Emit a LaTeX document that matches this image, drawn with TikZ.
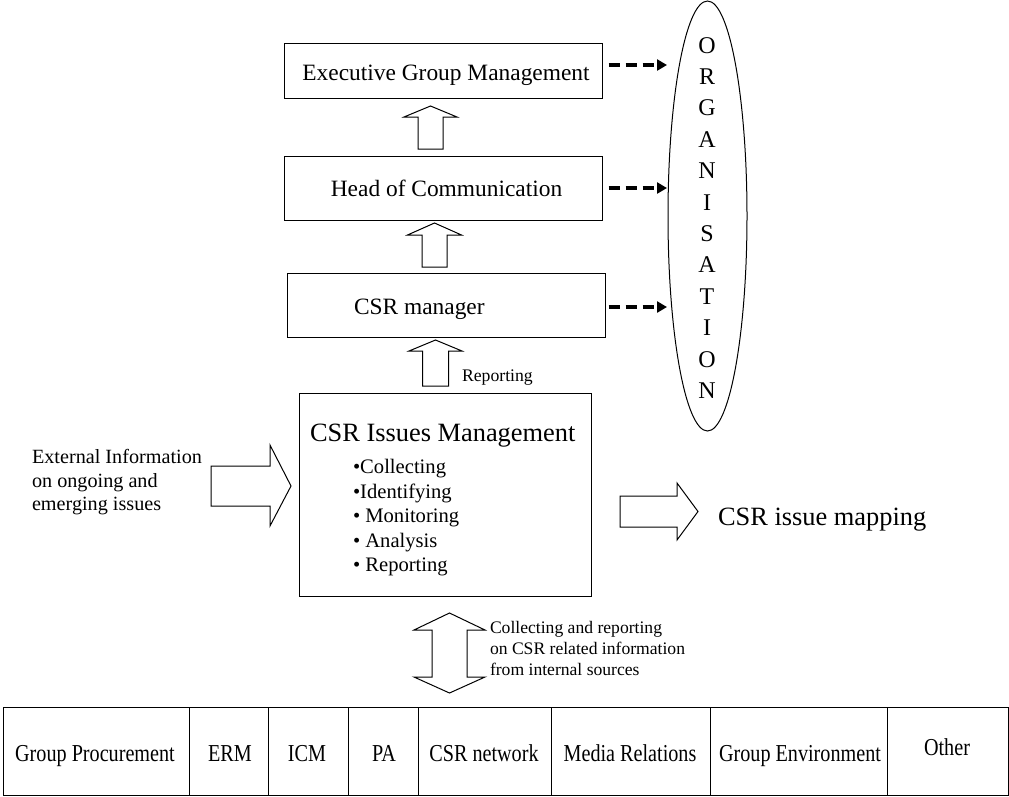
\documentclass[tikz,border=0pt]{standalone}
\usepackage{fontspec}
\setmainfont{Liberation Serif}
\usetikzlibrary{shapes.geometric,arrows.meta,calc}

% font of a given size (pt), tight leading
\newcommand{\fsz}[1]{\fontsize{#1}{#1}\selectfont}
% hollow upward block arrow: centre x, half shaft, half head, tip y, head base y, bottom y
\newcommand{\blockup}[6]{%
  \draw[block] ({#1-#2},#6) -- ({#1-#2},#5) -- ({#1-#3},#5) -- (#1,#4)
    -- ({#1+#3},#5) -- ({#1+#2},#5) -- ({#1+#2},#6) -- cycle;}

\begin{document}
\begin{tikzpicture}[x=1pt,y=-1pt,
  box/.style={draw, line width=1pt, rectangle, inner sep=0pt},
  block/.style={draw, line width=1pt, line join=miter},
  dasharrow/.style={line width=3.5pt, dash pattern=on 11.5pt off 5.5pt,
    -{Triangle[length=10pt,width=11pt]}},
  lbl/.style={inner sep=0pt, outer sep=0pt},
  celltxt/.style={lbl, anchor=base, font=\fsz{24.3}},
  grid/.style={line width=1pt}]

\useasboundingbox (0,0) rectangle (1009,796);

% --- management chain ---
\node[box, minimum width=318pt, minimum height=55pt] (exec) at (443,70.5) {};
\node[lbl, anchor=base, font=\fsz{23.4}] (exectxt) at (446,80.5) {Executive Group Management};

\node[box, minimum width=318pt, minimum height=64pt] (head) at (443,188) {};
\node[lbl, anchor=base, font=\fsz{23.4}] (headtxt) at (446.5,196.5) {Head of Communication};

\node[box, minimum width=318pt, minimum height=64pt] (mgr) at (446,305) {};
\node[lbl, anchor=base west, font=\fsz{23.4}] (mgrtxt) at (354,314) {CSR manager};

\blockup{430.5}{12.5}{26.5}{106}{117}{149}
\blockup{434.5}{12.5}{27}{223}{235}{267}
\blockup{435.5}{13}{26.5}{340}{351}{386}
\node[lbl, anchor=base west, font=\fsz{17.7}] (rep) at (462,381.5) {Reporting};

% --- organisation ellipse ---
\node[draw, ellipse, line width=1pt, minimum width=79pt, minimum height=430pt,
      inner sep=0pt] (org) at (707.5,216) {};
\foreach \L [count=\i from 0] in {O,R,G,A,N,I,S,A,T,I,O,N}
  \node[lbl, anchor=base, font=\fsz{24}] (org\i) at (707,{53+31.4*\i}) {\L};

\coordinate (o1) at (667,65);
\coordinate (o2) at (667,188);
\coordinate (o3) at (667,307);
\draw[dasharrow] ([shift={(6,-5.5)}]exec.east) -- (o1);
\draw[dasharrow] ([shift={(6,0)}]head.east) -- (o2);
\draw[dasharrow] ([shift={(3,2)}]mgr.east) -- (o3);

% --- issues management ---
\node[box, minimum width=292pt, minimum height=203pt] (issues) at (445,494.5) {};
\node[lbl, anchor=base west, font=\fsz{26.4}] (issuestitle) at (310,441) {CSR Issues Management};
\foreach \t [count=\i from 0] in {{•Collecting},{•Identifying},{• Monitoring},{• Analysis},{• Reporting}}
  \node[lbl, anchor=base west, font=\fsz{20.6}] (item\i) at (353,{473.5+24.55*\i}) {\t};

% external information arrow
\node[lbl, anchor=base west, font=\fsz{20.2}] (ext1) at (32,463.3) {External Information};
\node[lbl, anchor=base west, font=\fsz{20.2}] (ext2) at (32,487.3) {on ongoing and};
\node[lbl, anchor=base west, font=\fsz{20.2}] (ext3) at (32,510.7) {emerging issues};
\draw[block] (211,466) -- (270,466) -- (270,445) -- (291,486) -- (270,526)
  -- (270,506) -- (211,506) -- cycle;

% issue mapping arrow
\draw[block] (620,496) -- (677,496) -- (677,483) -- (698,511.5) -- (677,540)
  -- (677,527) -- (620,527) -- cycle;
\node[lbl, anchor=base west, font=\fsz{26.4}] (mapping) at (718,525) {CSR issue mapping};

% two-way exchange with internal sources
\draw[block] (449.5,613) -- (485,630) -- (467,630) -- (467,677) -- (485,677)
  -- (449.5,693) -- (414,677) -- (432,677) -- (432,630) -- (414,630) -- cycle;
\node[lbl, anchor=base west, font=\fsz{17.6}] (col1) at (490,633.3) {Collecting and reporting};
\node[lbl, anchor=base west, font=\fsz{17.6}] (col2) at (490,654) {on CSR related information};
\node[lbl, anchor=base west, font=\fsz{17.6}] (col3) at (490,675) {from internal sources};

% --- internal sources table ---
\draw[grid] (3,707) rectangle (1008,795);
\foreach \xx in {189,268,348,418,551,710,887}
  \draw[grid] (\xx,707) -- (\xx,795);
\node[celltxt] (gp)  at (95,761)  {\scalebox{0.83}[1]{Group Procurement}};
\node[celltxt] (erm) at (230,761) {\scalebox{0.83}[1]{ERM}};
\node[celltxt] (icm) at (307,761) {\scalebox{0.83}[1]{ICM}};
\node[celltxt] (pa)  at (384,761) {\scalebox{0.83}[1]{PA}};
\node[celltxt] (net) at (484,761) {\scalebox{0.83}[1]{CSR network}};
\node[celltxt] (med) at (630,761) {\scalebox{0.83}[1]{Media Relations}};
\node[celltxt] (env) at (800,761) {\scalebox{0.83}[1]{Group Environment}};
\node[celltxt] (oth) at (947,755) {\scalebox{0.83}[1]{Other}};

\end{tikzpicture}
\end{document}
